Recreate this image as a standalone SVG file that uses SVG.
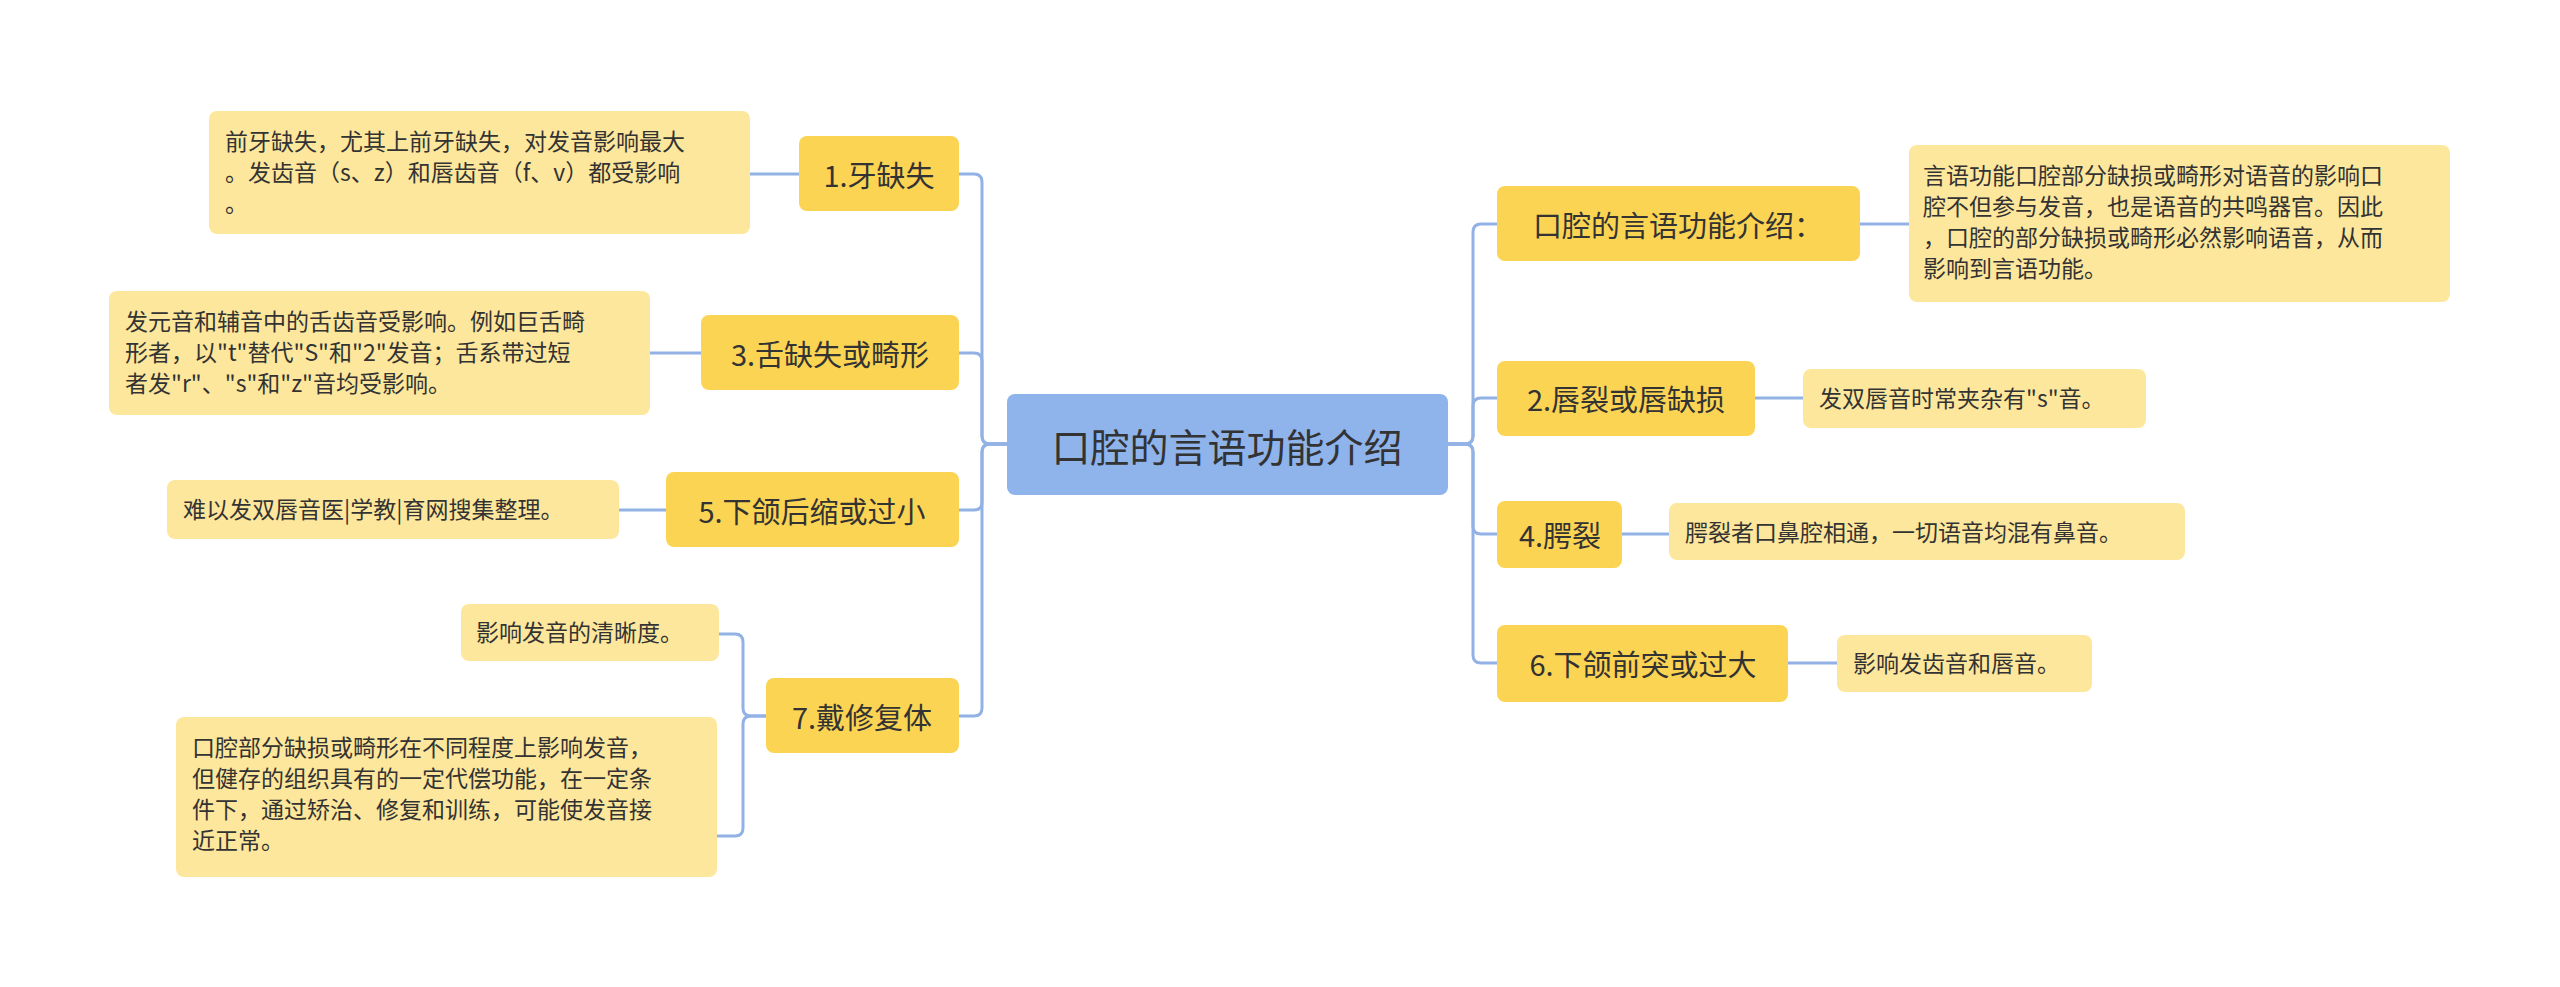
<svg xmlns="http://www.w3.org/2000/svg" width="2560" height="987" viewBox="0 0 2560 987">
<style>
text{font-family:"Noto Sans CJK SC","Liberation Sans",sans-serif;fill:#333}
.m rect{fill:#fcd453}
.l rect{fill:#fde79c}
.m text{font-size:29px;text-anchor:middle;dominant-baseline:central}
.l text{font-size:23px}
.c path{fill:none;stroke:#92b2e6;stroke-width:3}
</style>
<rect width="2560" height="987" fill="#fff"/>
<g class="c">
<path d="M1007 444 H990 Q982 444 982 436 V182 Q982 174 974 174 H959"/>
<path d="M1007 444 H990 Q982 444 982 436 V361 Q982 353 974 353 H959"/>
<path d="M1007 444 H990 Q982 444 982 452 V502 Q982 510 974 510 H959"/>
<path d="M1007 444 H990 Q982 444 982 452 V708 Q982 716 974 716 H959"/>
<path d="M1448 444 H1465 Q1473 444 1473 436 V232 Q1473 224 1481 224 H1497"/>
<path d="M1448 444 H1465 Q1473 444 1473 436 V406 Q1473 398 1481 398 H1497"/>
<path d="M1448 444 H1465 Q1473 444 1473 452 V526 Q1473 534 1481 534 H1497"/>
<path d="M1448 444 H1465 Q1473 444 1473 452 V655 Q1473 663 1481 663 H1497"/>
<path d="M799 174 H750"/>
<path d="M701 353 H650"/>
<path d="M666 510 H619"/>
<path d="M766 716 H751 Q743 716 743 708 V642 Q743 634 735 634 H719"/>
<path d="M766 716 H751 Q743 716 743 724 V828 Q743 836 735 836 H717"/>
<path d="M1860 224 H1909"/>
<path d="M1755 398 H1803"/>
<path d="M1622 534 H1669"/>
<path d="M1788 663 H1837"/>
</g>
<g id="center"><rect x="1007" y="394" width="441" height="101" rx="8" fill="#8fb4ec"/><text x="1227" y="445" font-size="39" text-anchor="middle" dominant-baseline="central">口腔的言语功能介绍</text></g>
<g id="n1" class="m"><rect x="799" y="136" width="160" height="75" rx="8"/><text x="879" y="174">1.牙缺失</text></g>
<g id="n1a" class="l"><rect x="209" y="111" width="541" height="123" rx="8"/><text x="225" y="150">前牙缺失，尤其上前牙缺失，对发音影响最大</text><text x="225" y="181">。发齿音（s、z）和唇齿音（f、v）都受影响</text><text x="225" y="212">。</text></g>
<g id="n3" class="m"><rect x="701" y="315" width="258" height="75" rx="8"/><text x="830" y="353">3.舌缺失或畸形</text></g>
<g id="n3a" class="l"><rect x="109" y="291" width="541" height="124" rx="8"/><text x="125" y="330">发元音和辅音中的舌齿音受影响。例如巨舌畸</text><text x="125" y="361">形者，以"t"替代"S"和"2"发音；舌系带过短</text><text x="125" y="392">者发"r"、"s"和"z"音均受影响。</text></g>
<g id="n5" class="m"><rect x="666" y="472" width="293" height="75" rx="8"/><text x="812" y="510">5.下颌后缩或过小</text></g>
<g id="n5a" class="l"><rect x="167" y="480" width="452" height="59" rx="8"/><text x="183" y="518">难以发双唇音医|学教|育网搜集整理。</text></g>
<g id="n7" class="m"><rect x="766" y="678" width="193" height="75" rx="8"/><text x="862" y="716">7.戴修复体</text></g>
<g id="n7a" class="l"><rect x="461" y="604" width="258" height="57" rx="8"/><text x="476" y="641">影响发音的清晰度。</text></g>
<g id="n7b" class="l"><rect x="176" y="717" width="541" height="160" rx="8"/><text x="192" y="756">口腔部分缺损或畸形在不同程度上影响发音，</text><text x="192" y="787">但健存的组织具有的一定代偿功能，在一定条</text><text x="192" y="818">件下，通过矫治、修复和训练，可能使发音接</text><text x="192" y="849">近正常。</text></g>
<g id="r1" class="m"><rect x="1497" y="186" width="363" height="75" rx="8"/><text x="1678" y="224">口腔的言语功能介绍：</text></g>
<g id="r1a" class="l"><rect x="1909" y="145" width="541" height="157" rx="8"/><text x="1923" y="184">言语功能口腔部分缺损或畸形对语音的影响口</text><text x="1923" y="215">腔不但参与发音，也是语音的共鸣器官。因此</text><text x="1923" y="246">，口腔的部分缺损或畸形必然影响语音，从而</text><text x="1923" y="277">影响到言语功能。</text></g>
<g id="r2" class="m"><rect x="1497" y="361" width="258" height="75" rx="8"/><text x="1626" y="398">2.唇裂或唇缺损</text></g>
<g id="r2a" class="l"><rect x="1803" y="369" width="343" height="59" rx="8"/><text x="1819" y="407">发双唇音时常夹杂有"s"音。</text></g>
<g id="r4" class="m"><rect x="1497" y="501" width="125" height="67" rx="8"/><text x="1560" y="534">4.腭裂</text></g>
<g id="r4a" class="l"><rect x="1669" y="503" width="516" height="57" rx="8"/><text x="1685" y="541">腭裂者口鼻腔相通，一切语音均混有鼻音。</text></g>
<g id="r6" class="m"><rect x="1497" y="625" width="291" height="77" rx="8"/><text x="1643" y="663">6.下颌前突或过大</text></g>
<g id="r6a" class="l"><rect x="1837" y="635" width="255" height="57" rx="8"/><text x="1853" y="672">影响发齿音和唇音。</text></g>
</svg>
